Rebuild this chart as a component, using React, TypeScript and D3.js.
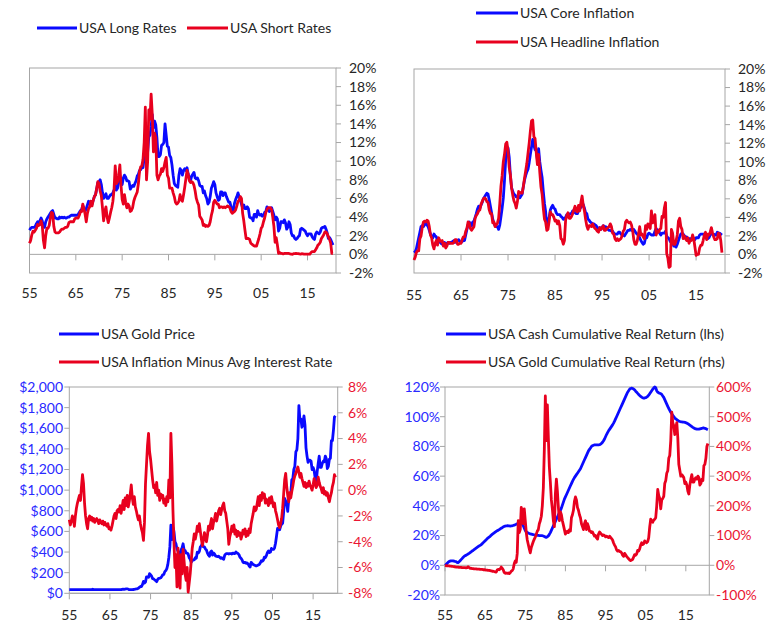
import React from "react";
import * as d3 from "d3";

const START_YEAR = 1955;
const STEP = 0.25; // quarterly observations
const yearTicks = [1955, 1965, 1975, 1985, 1995, 2005, 2015];

const rateTicks = [-2, 0, 2, 4, 6, 8, 10, 12, 14, 16, 18, 20];
const goldTicks = [0, 200, 400, 600, 800, 1000, 1200, 1400, 1600, 1800, 2000];
const spreadTicks = [-8, -6, -4, -2, 0, 2, 4, 6, 8];
const cashTicks = [-20, 0, 20, 40, 60, 80, 100, 120];
const goldRetTicks = [-100, 0, 100, 200, 300, 400, 500, 600];

// Chart 1
const longRates = [
  2.6, 2.8, 2.9, 2.9, 2.9, 3.0, 3.3, 3.5, 3.4, 3.6, 3.9, 3.6, 3.0, 2.9, 3.5, 3.8,
  4.0, 4.2, 4.4, 4.6, 4.7, 4.3, 3.9, 3.9, 3.8, 3.8, 4.0, 3.9, 4.0, 3.9, 4.0, 3.9,
  3.9, 4.0, 4.0, 4.1, 4.2, 4.2, 4.2, 4.2, 4.2, 4.2, 4.3, 4.5, 4.7, 4.8, 5.2, 4.9,
  4.6, 4.9, 5.3, 5.7, 5.6, 5.7, 5.4, 5.8, 6.2, 6.4, 7.0, 7.7, 7.8, 8.0, 7.5, 6.6,
  6.0, 6.3, 6.5, 6.0, 6.0, 6.2, 6.4, 6.4, 6.6, 6.9, 7.4, 6.9, 7.1, 7.7, 8.4, 7.7,
  7.5, 8.2, 8.5, 8.3, 7.9, 7.9, 7.8, 7.0, 7.2, 7.4, 7.3, 7.6, 7.9, 8.4, 8.6, 9.0,
  9.1, 9.3, 9.3, 10.4, 12.0, 10.3, 11.0, 12.6, 12.8, 13.7, 15.0, 13.6, 14.3, 13.9, 12.5, 10.5,
  10.5, 10.7, 11.7, 11.8, 12.0, 14.0, 12.8, 11.6, 11.5, 10.6, 10.4, 9.6, 8.5, 7.6, 7.4, 7.3,
  7.2, 8.5, 9.2, 9.0, 8.5, 9.0, 9.2, 9.0, 9.3, 8.6, 8.2, 7.9, 8.4, 8.6, 8.8, 8.2,
  8.1, 8.2, 7.9, 7.4, 7.3, 7.3, 6.6, 6.8, 6.3, 6.0, 5.4, 5.6, 6.2, 7.1, 7.4, 7.8,
  7.5, 6.6, 6.2, 5.8, 5.9, 6.7, 6.7, 6.3, 6.6, 6.6, 6.2, 5.9, 5.6, 5.6, 5.1, 4.6,
  4.8, 5.5, 5.9, 6.2, 6.6, 6.2, 5.8, 5.4, 5.0, 5.3, 4.9, 4.9, 5.1, 4.9, 4.0, 3.9,
  3.9, 3.6, 4.3, 4.3, 4.0, 4.7, 4.3, 4.2, 4.3, 4.1, 4.2, 4.5, 4.6, 5.1, 4.8, 4.6,
  4.7, 5.0, 4.6, 4.2, 3.7, 4.0, 3.8, 2.5, 2.8, 3.5, 3.5, 3.4, 3.7, 3.4, 2.7, 2.9,
  3.5, 3.2, 2.3, 2.0, 2.0, 1.7, 1.6, 1.7, 1.9, 2.0, 2.7, 2.8, 2.7, 2.6, 2.5, 2.2,
  2.0, 2.2, 2.2, 2.2, 1.9, 1.7, 1.6, 2.2, 2.4, 2.3, 2.2, 2.4, 2.8, 2.9, 2.9, 3.0,
  2.7, 2.3, 1.7, 1.8, 1.6, 1.3, 1.0,
];
const shortRates = [
  1.2, 1.5, 2.1, 2.5, 2.4, 2.6, 2.8, 3.2, 3.1, 3.2, 3.6, 3.1, 1.5, 0.7, 2.0, 2.8,
  2.8, 3.1, 3.9, 4.5, 4.4, 3.0, 2.4, 2.3, 2.3, 2.3, 2.4, 2.6, 2.7, 2.7, 2.8, 2.9,
  2.9, 3.0, 3.4, 3.5, 3.5, 3.5, 3.5, 3.8, 3.9, 3.9, 3.9, 4.2, 4.6, 4.6, 5.4, 4.9,
  4.3, 3.5, 4.4, 4.9, 5.1, 5.7, 5.2, 5.8, 6.2, 6.4, 7.1, 7.8, 7.6, 6.8, 6.3, 5.0,
  3.6, 4.6, 5.1, 4.0, 3.4, 3.9, 4.5, 5.0, 5.7, 7.0, 9.5, 7.6, 7.8, 8.5, 9.6, 7.4,
  5.9, 5.4, 6.4, 5.6, 5.0, 5.4, 5.2, 4.6, 4.7, 5.0, 5.7, 6.1, 6.4, 6.7, 7.6, 8.9,
  9.4, 9.5, 10.2, 12.0, 15.8, 8.0, 10.0, 15.5, 14.5, 17.2, 15.0, 11.0, 13.0, 12.5, 8.5, 8.0,
  8.4, 8.6, 9.2, 8.9, 9.3, 9.9, 10.4, 8.5, 8.2, 7.1, 7.1, 7.1, 6.6, 6.2, 5.6, 5.4,
  5.5, 5.7, 6.4, 5.9, 5.7, 6.4, 7.2, 8.1, 9.0, 8.6, 7.9, 7.7, 7.8, 7.7, 7.4, 6.8,
  6.0, 5.6, 5.3, 4.1, 3.9, 3.7, 3.1, 3.2, 3.0, 3.1, 3.0, 3.1, 3.5, 4.2, 4.7, 5.6,
  5.8, 5.6, 5.4, 5.4, 5.0, 5.1, 5.1, 5.0, 5.1, 5.0, 5.1, 5.2, 5.1, 5.0, 4.6, 4.4,
  4.5, 4.6, 4.8, 5.2, 5.7, 5.8, 6.2, 6.0, 4.4, 3.6, 2.6, 1.7, 1.7, 1.7, 1.6, 1.2,
  1.1, 1.0, 0.9, 0.9, 0.9, 1.3, 1.7, 2.2, 2.8, 3.0, 3.5, 3.9, 4.5, 4.8, 5.0, 5.0,
  5.0, 4.8, 4.0, 3.0, 1.3, 1.8, 1.0, 0.1, 0.2, 0.1, 0.1, 0.05, 0.1, 0.1, 0.1, 0.1,
  0.1, 0.05, 0.02, 0.01, 0.07, 0.09, 0.1, 0.08, 0.08, 0.05, 0.02, 0.07, 0.05, 0.03, 0.02, 0.03,
  0.02, 0.02, 0.02, 0.2, 0.3, 0.3, 0.3, 0.5, 0.7, 1.0, 1.1, 1.3, 1.7, 1.9, 2.1, 2.4,
  2.4, 2.2, 1.9, 1.6, 1.2, 0.1, 0.1,
];

// Chart 2
const coreInflation = [
  0.2, 0.3, 0.6, 1.2, 1.8, 2.4, 3.0, 3.1, 3.0, 3.2, 3.4, 3.2, 3.0, 2.6, 2.2, 1.9,
  1.8, 2.2, 2.0, 1.9, 1.5, 1.3, 1.4, 1.2, 1.1, 1.2, 1.3, 1.1, 1.2, 1.3, 1.2, 1.3,
  1.3, 1.4, 1.5, 1.3, 1.5, 1.5, 1.6, 1.4, 1.3, 1.4, 1.5, 1.5, 2.1, 2.7, 3.2, 3.5,
  3.3, 3.1, 3.5, 3.6, 4.0, 4.4, 4.9, 5.2, 5.0, 5.3, 5.6, 6.0, 6.2, 6.4, 6.6, 6.5,
  5.9, 5.2, 4.5, 3.8, 3.4, 3.1, 3.0, 3.0, 2.7, 3.2, 4.1, 5.0, 6.1, 8.0, 10.2, 11.2,
  11.5, 10.5, 8.5, 7.2, 6.8, 6.5, 6.4, 6.2, 6.2, 6.3, 6.1, 6.3, 6.5, 7.3, 8.0, 8.5,
  8.9, 9.2, 9.9, 10.8, 11.6, 12.4, 11.8, 11.3, 11.2, 10.2, 11.4, 10.0, 9.1, 8.3, 6.8, 5.5,
  4.6, 3.0, 3.5, 4.0, 4.8, 5.1, 5.3, 5.0, 4.9, 4.5, 4.3, 4.3, 4.3, 4.1, 4.0, 3.8,
  3.9, 4.0, 4.3, 4.2, 4.3, 4.4, 4.4, 4.7, 4.6, 4.5, 4.4, 4.4, 4.7, 4.9, 5.1, 5.3,
  5.4, 5.0, 4.5, 4.4, 3.8, 3.7, 3.5, 3.4, 3.3, 3.3, 3.2, 3.1, 2.9, 2.8, 2.9, 2.7,
  2.9, 3.1, 3.0, 3.0, 2.9, 2.7, 2.6, 2.6, 2.5, 2.5, 2.3, 2.2, 2.2, 2.2, 2.4, 2.4,
  2.2, 2.1, 2.1, 2.0, 2.2, 2.4, 2.6, 2.6, 2.7, 2.6, 2.6, 2.7, 2.5, 2.3, 2.2, 2.0,
  1.8, 1.5, 1.3, 1.1, 1.2, 1.8, 1.8, 2.2, 2.3, 2.2, 2.1, 2.1, 2.1, 2.5, 2.8, 2.6,
  2.6, 2.3, 2.1, 2.3, 2.3, 2.3, 2.5, 2.0, 1.8, 1.7, 1.4, 1.8, 1.3, 0.9, 0.9, 0.8,
  1.1, 1.5, 1.9, 2.2, 2.3, 2.2, 2.0, 1.9, 1.9, 1.6, 1.7, 1.7, 1.6, 1.9, 1.7, 1.6,
  1.8, 1.8, 1.8, 2.1, 2.2, 2.2, 2.2, 2.2, 2.2, 1.7, 1.7, 1.8, 2.1, 2.2, 2.2, 2.2,
  2.1, 2.1, 2.4, 2.3, 2.3, 2.2, 2.1,
];
const headlineInflation = [
  -0.6, -0.3, 0.2, 0.4, 0.4, 1.7, 2.0, 2.9, 3.5, 3.6, 3.5, 3.7, 3.6, 3.0, 2.1, 1.8,
  1.0, 0.6, 1.2, 1.5, 1.0, 1.8, 1.5, 1.4, 1.5, 0.9, 1.2, 0.7, 0.9, 1.3, 1.3, 1.2,
  1.2, 1.2, 1.3, 1.6, 1.6, 1.1, 1.1, 1.2, 1.2, 1.6, 1.9, 1.9, 2.5, 2.8, 3.5, 3.4,
  2.8, 2.6, 2.8, 3.0, 3.9, 4.2, 4.4, 4.7, 4.8, 5.4, 5.7, 6.0, 6.1, 6.0, 5.7, 5.6,
  4.8, 4.4, 4.4, 3.4, 3.5, 3.0, 3.2, 3.4, 3.9, 5.5, 7.4, 8.5, 10.0, 10.8, 11.9, 12.1,
  11.2, 9.4, 8.6, 7.2, 6.4, 5.8, 5.5, 5.0, 5.7, 6.8, 6.6, 6.7, 6.6, 7.3, 8.2, 9.0,
  9.8, 10.9, 12.0, 13.3, 14.4, 14.5, 12.7, 12.5, 11.0, 9.7, 10.8, 8.9, 7.3, 6.5, 5.0, 3.8,
  3.5, 2.6, 2.7, 3.6, 4.6, 4.3, 4.3, 4.0, 3.6, 3.7, 3.3, 3.6, 3.1, 1.7, 1.6, 1.1,
  1.5, 3.7, 4.2, 4.5, 3.9, 3.9, 4.1, 4.4, 4.8, 5.2, 4.7, 4.6, 5.3, 4.7, 5.6, 6.3,
  5.3, 4.7, 3.8, 3.1, 2.7, 3.1, 3.1, 3.0, 3.3, 3.0, 2.8, 2.7, 2.5, 2.4, 2.9, 2.7,
  2.9, 3.1, 2.6, 2.6, 2.8, 2.9, 3.0, 3.3, 3.0, 2.3, 2.2, 1.7, 1.5, 1.7, 1.5, 1.6,
  1.7, 2.0, 2.5, 2.7, 3.5, 3.7, 3.5, 3.4, 3.5, 3.2, 2.6, 1.6, 1.1, 1.1, 1.5, 2.2,
  3.0, 2.1, 2.2, 1.9, 1.7, 3.1, 2.7, 3.3, 3.1, 2.8, 4.7, 3.4, 3.6, 4.3, 2.1, 2.5,
  2.4, 2.7, 2.8, 4.1, 4.0, 5.0, 5.6, 0.1, -0.4, -1.4, -1.3, 2.7, 2.3, 1.1, 1.1, 1.5,
  2.1, 3.6, 3.9, 3.0, 2.7, 1.7, 2.0, 1.7, 1.5, 1.8, 1.2, 1.5, 1.5, 2.1, 1.7, 0.8,
  -0.1, 0.0, 0.0, 0.7, 1.0, 1.0, 1.5, 2.1, 2.4, 1.6, 2.2, 2.1, 2.4, 2.9, 2.3, 1.9,
  1.6, 1.6, 1.7, 2.3, 2.2, 1.5, 0.2,
];

// Chart 3
const goldPrice = [
  35, 35, 35, 35, 35, 35, 35, 35, 35, 35, 35, 35, 35, 35, 35, 35,
  35, 35, 35, 35, 35, 35, 36, 40, 36, 35, 35, 35, 35, 35, 35, 35,
  35, 35, 35, 35, 35, 35, 35, 35, 35, 35, 35, 35, 35, 35, 35, 35,
  35, 35, 35, 35, 38, 40, 39, 41, 43, 42, 41, 35, 35, 36, 36, 37,
  38, 40, 42, 43, 48, 58, 66, 64, 84, 115, 100, 110, 160, 160, 155, 190,
  180, 166, 142, 140, 130, 125, 112, 135, 145, 145, 150, 163, 180, 183, 210, 220,
  240, 280, 350, 450, 660, 520, 640, 600, 500, 480, 430, 410, 370, 320, 420, 440,
  480, 420, 415, 390, 390, 380, 345, 330, 300, 315, 325, 325, 345, 340, 400, 390,
  405, 450, 460, 485, 450, 450, 430, 420, 390, 370, 360, 400, 410, 370, 390, 380,
  360, 360, 355, 360, 350, 340, 345, 335, 330, 370, 380, 385, 385, 380, 385, 385,
  380, 390, 385, 385, 400, 390, 385, 375, 350, 340, 325, 300, 295, 300, 290, 295,
  285, 265, 255, 300, 290, 280, 275, 270, 265, 270, 275, 280, 295, 315, 310, 320,
  350, 345, 365, 395, 410, 395, 400, 435, 425, 425, 440, 485, 555, 630, 620, 615,
  650, 670, 680, 790, 920, 895, 870, 795, 910, 925, 960, 1100, 1110, 1200, 1230, 1370,
  1390, 1500, 1820, 1680, 1690, 1610, 1650, 1720, 1630, 1410, 1330, 1270, 1290, 1290, 1280, 1200,
  1220, 1190, 1120, 1070, 1180, 1260, 1330, 1220, 1220, 1260, 1280, 1275, 1330, 1305, 1210, 1230,
  1300, 1310, 1480, 1480, 1580, 1710, 1720,
];
const inflationMinusRate = [
  -2.3, -2.7, -2.4, -2.0, -2.2, -2.8, -2.0, -1.4, -1.0, -0.7, -0.4, -0.8, 0.3, 1.2, 0.5, -1.0,
  -2.0, -2.6, -3.0, -2.2, -2.0, -2.3, -2.1, -2.4, -2.2, -2.5, -2.3, -2.2, -2.4, -2.6, -2.3, -2.5,
  -2.6, -2.4, -2.7, -2.5, -2.7, -2.8, -2.6, -3.0, -2.9, -3.1, -2.8, -2.4, -2.0, -1.8, -2.2, -1.6,
  -1.5, -1.7, -1.2, -1.8, -1.3, -0.8, -1.5, -0.6, -1.2, -0.4, -1.3, -0.9, -0.3, 0.4, -0.6, -1.1,
  -0.5, -1.3, -1.6, -2.0, -2.3, -2.0, -2.6, -3.0, -3.3, -3.9, -2.5, 0.5, 2.0, 3.5, 4.4, 3.0,
  2.4, 1.6, 0.8, 0.2, 0.4, -0.2, 0.6, -0.4, 0.0, -0.8, -0.3, -0.6, -0.4, -1.0, -0.7, -1.2,
  -0.5, -0.9, 0.8, -0.6, 4.4, 2.0, -1.5, -4.0, -6.0, -5.0, -7.5, -4.5, -6.8, -7.6, -5.0, -6.5,
  -4.6, -5.5, -6.5, -7.0, -6.0, -7.9, -7.2, -6.5, -5.5, -4.5, -4.0, -3.4, -3.8, -3.4, -2.8, -3.2,
  -2.6, -3.2, -3.8, -4.3, -3.9, -3.3, -3.6, -4.0, -3.5, -2.8, -3.1, -2.6, -2.2, -3.0, -2.5, -2.2,
  -1.8, -2.4, -2.0, -1.6, -1.4, -1.9, -1.5, -1.2, -1.0, -1.6, -1.8, -2.4, -3.0, -4.2, -3.6, -3.3,
  -2.8, -3.2, -2.7, -3.4, -3.1, -3.6, -3.2, -3.5, -3.3, -3.8, -3.5, -3.1, -3.4, -3.0, -3.6, -3.2,
  -3.5, -3.0, -3.3, -2.6, -2.2, -1.8, -1.3, -1.6, -1.5, -1.0, -0.5, -1.2, -0.4, -0.8, -0.2, -0.6,
  -0.3, -1.0, -0.7, -0.9, -1.2, -0.6, -1.0, -0.5, -0.9, -1.3, -1.0, -1.6, -1.9, -2.3, -2.7, -2.9,
  -2.6, -2.2, -1.4, -0.3, 0.8, 1.3, 0.3, -0.4, -0.9, -0.2, -0.6, -0.1, 0.3, 0.8, 1.1, 1.3,
  1.6, 1.8, 1.4, 1.0, 1.3, 0.9, 0.6, 0.3, 0.6, 0.2, 0.5, 0.3, 0.7, 0.4, 0.2, 0.0,
  0.4, 0.9, 0.5, 0.2, 0.4, 1.0, 0.6, 0.3, 0.1, -0.2, 0.2, -0.3, -0.1, -0.4, -0.2, -0.6,
  -0.9, -0.5, -0.2, 0.3, 0.6, 1.2, 1.0,
];

// Chart 4
const cashRealReturn = [
  0.0, 0.5, 1.2, 2.0, 2.5, 2.8, 3.0, 3.0, 3.0, 2.8, 2.6, 2.5, 2.0, 1.8, 2.3, 3.0,
  3.8, 4.5, 5.3, 6.0, 6.4, 6.8, 7.2, 7.6, 8.0, 8.5, 9.0, 9.6, 10.0, 10.5, 11.0, 11.5,
  12.0, 12.5, 13.0, 13.4, 13.8, 14.5, 15.2, 15.8, 16.5, 17.1, 17.8, 18.5, 19.0, 19.5, 20.2, 20.8,
  21.3, 21.8, 22.3, 22.8, 23.2, 23.6, 24.0, 24.5, 24.9, 25.3, 25.8, 26.2, 26.4, 26.5, 26.6, 26.6,
  26.5, 26.4, 26.5, 26.6, 26.8, 27.0, 27.3, 27.6, 28.0, 28.3, 28.8, 29.0, 28.6, 27.8, 26.6, 25.0,
  23.5, 22.5, 22.0, 21.7, 21.4, 21.2, 21.0, 20.8, 20.6, 20.5, 20.4, 20.3, 20.2, 20.1, 20.0, 20.0,
  20.0, 19.9, 19.7, 19.4, 19.0, 18.8, 19.2, 19.8, 20.8, 22.0, 23.5, 25.0, 26.5, 28.0, 29.5, 31.0,
  32.5, 34.0, 35.5, 37.0, 38.5, 40.5, 42.5, 44.5, 46.0, 47.5, 49.0, 50.5, 52.0, 53.5, 55.0, 56.5,
  57.8, 59.0, 60.0, 61.0, 62.0, 63.0, 64.0, 65.0, 66.5, 68.0, 69.5, 71.0, 72.5, 74.0, 75.5, 77.0,
  78.0, 79.0, 80.0, 80.5, 80.8, 81.0, 81.0, 81.0, 81.0, 81.0, 81.2, 81.5, 82.0, 82.8, 83.8, 85.0,
  86.5, 88.0, 89.3, 90.5, 91.5, 92.5, 93.5, 94.5, 95.7, 97.0, 98.5, 100.0, 101.5, 103.0, 104.5, 106.0,
  107.5, 109.0, 110.5, 112.0, 113.5, 115.0, 116.5, 117.5, 118.5, 119.0, 119.2, 119.0, 118.5, 118.0, 117.2, 116.5,
  115.7, 115.0, 114.3, 113.7, 113.2, 112.8, 112.5, 112.6, 112.8, 113.2, 113.7, 114.5, 115.5, 116.5, 117.5, 118.5,
  119.3, 120.0, 119.6, 117.5, 116.5, 116.0, 115.8, 115.5, 115.0, 114.0, 113.0, 111.5, 110.0, 108.5, 107.0, 105.5,
  104.3, 103.0, 102.0, 101.0, 100.0, 99.2, 98.5, 98.0, 97.5, 97.0, 96.8, 96.6, 96.5, 96.4, 96.3, 96.2,
  96.0, 95.7, 95.3, 94.8, 94.3, 93.8, 93.3, 92.8, 92.4, 92.0, 91.8, 91.6, 91.6, 91.6, 91.8, 92.0,
  92.2, 92.4, 92.4, 92.2, 92.0, 91.6, 91.3,
];
const goldRealReturn = [
  0, -1, -2, -2, -2, -3, -3, -4, -4, -5, -5, -6, -6, -6, -7, -7,
  -7, -8, -8, -8, -8, -9, -8, -5, -8, -10, -10, -11, -11, -12, -12, -12,
  -13, -13, -13, -14, -14, -14, -15, -15, -15, -16, -16, -17, -17, -18, -19, -20,
  -20, -21, -22, -23, -16, -14, -15, -12, -6, -10, -15, -24, -27, -26, -27, -26,
  -28, -25, -20, -18, -12, 5, 15, 10, 40, 150, 110, 120, 195, 180, 140, 190,
  150, 110, 85, 70, 55, 42, 60, 70, 80, 88, 95, 105, 115, 120, 140, 150,
  165, 200, 260, 390, 570, 420, 540, 430, 330, 280, 220, 190, 150, 130, 240, 290,
  250, 195, 150, 180, 170, 150, 135, 120, 105, 110, 115, 110, 120, 115, 160, 170,
  185, 215, 230, 220, 195, 185, 170, 160, 140, 130, 120, 140, 150, 120, 140, 130,
  115, 115, 110, 112, 105, 98, 100, 92, 88, 105, 112, 108, 104, 100, 102, 100,
  96, 98, 95, 93, 98, 94, 90, 85, 75, 68, 62, 52, 48, 50, 46, 46,
  42, 34, 30, 40, 35, 30, 26, 22, 18, 16, 18, 20, 28, 36, 34, 38,
  50, 48, 55, 68, 76, 70, 72, 82, 78, 76, 80, 92, 128, 155, 148, 145,
  152, 155, 160, 200, 255, 235, 225, 190, 220, 225, 232, 275, 285, 310, 318, 360,
  370, 420, 515, 480, 470, 440, 460, 480, 430, 340, 320, 300, 305, 300, 295, 275,
  280, 270, 250, 240, 270, 290, 305, 280, 280, 290, 295, 290, 300, 295, 270, 275,
  290, 285, 335, 340, 360, 400, 410,
];

const BLUE = "#0a0aff";
const RED = "#e8001e";
const BLUE_TXT = "#2a2aff";
const RED_TXT = "#ea1532";
const GRID = "#a6a6a6";
const TXT = "#262626";
const FONT = "Lato, 'Open Sans', sans-serif";
const FS = 14;
const LW = 2.8;

type Axis = {
  domain: [number, number];
  ticks: number[];
  fmt: (v: number) => string;
  color: string;
  labelX: number;
};
type Series = { values: number[]; color: string; axis: "left" | "right" };
type Legend = { x1: number; x2: number; y: number; text: string; color: string };
type PanelProps = {
  l: number; r: number; t: number; b: number;
  xEnd: number;
  left?: Axis;
  right?: Axis;
  xAxisAxis: "left" | "right";
  xAxisValue: number;
  xLabelY: number;
  series: Series[];
  legend: Legend[];
};

const yearFmt = (y: number) => String(y % 100).padStart(2, "0");
const pct = (v: number) => `${v}%`;
const dollars = (v: number) => "$" + d3.format(",")(v);

function Panel(p: PanelProps) {
  const x = d3.scaleLinear().domain([START_YEAR, p.xEnd]).range([p.l, p.r]);
  const yL = p.left ? d3.scaleLinear().domain(p.left.domain).range([p.b, p.t]) : null;
  const yR = p.right ? d3.scaleLinear().domain(p.right.domain).range([p.b, p.t]) : null;
  const ys = { left: yL, right: yR } as any;
  const axisY = ys[p.xAxisAxis](p.xAxisValue);

  return (
    <g>
      <rect x={p.l} y={p.t} width={p.r - p.l} height={p.b - p.t} fill="none" stroke={GRID} strokeWidth={1} />
      <line x1={p.l} x2={p.r} y1={axisY} y2={axisY} stroke={GRID} strokeWidth={1} />
      {yearTicks.map((yr) => (
        <g key={yr}>
          <line x1={x(yr)} x2={x(yr)} y1={axisY} y2={axisY + 6} stroke={GRID} strokeWidth={1} />
          <text x={x(yr)} y={p.xLabelY} textAnchor="middle" dy="0.35em" fontFamily={FONT} fontSize={FS} fill={TXT}>
            {yearFmt(yr)}
          </text>
        </g>
      ))}
      {p.left && yL &&
        p.left.ticks.map((v) => (
          <g key={"l" + v}>
            <line x1={p.l - 5} x2={p.l} y1={yL(v)} y2={yL(v)} stroke={GRID} strokeWidth={1} />
            <text x={p.left!.labelX} y={yL(v)} dy="0.35em" textAnchor="end" fontFamily={FONT} fontSize={FS} fill={p.left!.color}>
              {p.left!.fmt(v)}
            </text>
          </g>
        ))}
      {p.right && yR &&
        p.right.ticks.map((v) => (
          <g key={"r" + v}>
            <line x1={p.r} x2={p.r + 5} y1={yR(v)} y2={yR(v)} stroke={GRID} strokeWidth={1} />
            <text x={p.right!.labelX} y={yR(v)} dy="0.35em" textAnchor="start" fontFamily={FONT} fontSize={FS} fill={p.right!.color}>
              {p.right!.fmt(v)}
            </text>
          </g>
        ))}
      {p.series.map((s, i) => {
        const ysc = ys[s.axis];
        const line = d3
          .line<number>()
          .x((_, j) => x(START_YEAR + j * STEP))
          .y((v) => ysc(v));
        return <path key={i} d={line(s.values) || ""} fill="none" stroke={s.color} strokeWidth={LW} strokeLinejoin="round" />;
      })}
      {p.legend.map((lg, i) => (
        <g key={"lg" + i}>
          <line x1={lg.x1} x2={lg.x2} y1={lg.y} y2={lg.y} stroke={lg.color} strokeWidth={LW} />
          <text x={lg.x2 + 2} y={lg.y} dy="0.35em" fontFamily={FONT} fontSize={FS} fill={TXT}>
            {lg.text}
          </text>
        </g>
      ))}
    </g>
  );
}

export default function App() {
  return (
    <svg width={766} height={623} style={{ position: "fixed", left: 0, top: 0, background: "#fff" }}>
      <rect x={0} y={0} width={766} height={623} fill="#fff" />
      <Panel
        l={29.5} r={336} t={68} b={273} xEnd={2021.15}
        right={{ domain: [-2, 20], ticks: rateTicks, fmt: pct, color: TXT, labelX: 349 }}
        xAxisAxis="right" xAxisValue={0} xLabelY={293}
        series={[
          { values: longRates, color: BLUE, axis: "right" },
          { values: shortRates, color: RED, axis: "right" },
        ]}
        legend={[
          { x1: 37, x2: 77, y: 28, text: "USA Long Rates", color: BLUE },
          { x1: 187, x2: 228, y: 28, text: "USA Short Rates", color: RED },
        ]}
      />
      <Panel
        l={414} r={725} t={69} b={273} xEnd={2021.15}
        right={{ domain: [-2, 20], ticks: rateTicks, fmt: pct, color: TXT, labelX: 738 }}
        xAxisAxis="right" xAxisValue={0} xLabelY={295}
        series={[
          { values: coreInflation, color: BLUE, axis: "right" },
          { values: headlineInflation, color: RED, axis: "right" },
        ]}
        legend={[
          { x1: 476, x2: 518, y: 13, text: "USA Core Inflation", color: BLUE },
          { x1: 476, x2: 518, y: 42, text: "USA Headline Inflation", color: RED },
        ]}
      />
      <Panel
        l={69.3} r={337.7} t={387} b={593.3} xEnd={2021.05}
        left={{ domain: [0, 2000], ticks: goldTicks, fmt: dollars, color: BLUE_TXT, labelX: 63 }}
        right={{ domain: [-8, 8], ticks: spreadTicks, fmt: pct, color: RED_TXT, labelX: 348 }}
        xAxisAxis="left" xAxisValue={0} xLabelY={615}
        series={[
          { values: goldPrice, color: BLUE, axis: "left" },
          { values: inflationMinusRate, color: RED, axis: "right" },
        ]}
        legend={[
          { x1: 59, x2: 99, y: 334, text: "USA Gold Price", color: BLUE },
          { x1: 59, x2: 99, y: 362, text: "USA Inflation Minus Avg Interest Rate", color: RED },
        ]}
      />
      <Panel
        l={445} r={709.3} t={387} b={595} xEnd={2020.85}
        left={{ domain: [-20, 120], ticks: cashTicks, fmt: pct, color: BLUE_TXT, labelX: 440 }}
        right={{ domain: [-100, 600], ticks: goldRetTicks, fmt: pct, color: RED_TXT, labelX: 716 }}
        xAxisAxis="left" xAxisValue={0} xLabelY={615}
        series={[
          { values: cashRealReturn, color: BLUE, axis: "left" },
          { values: goldRealReturn, color: RED, axis: "right" },
        ]}
        legend={[
          { x1: 446, x2: 486, y: 334, text: "USA Cash Cumulative Real Return (lhs)", color: BLUE },
          { x1: 446, x2: 486, y: 362, text: "USA Gold Cumulative Real Return (rhs)", color: RED },
        ]}
      />
    </svg>
  );
}
